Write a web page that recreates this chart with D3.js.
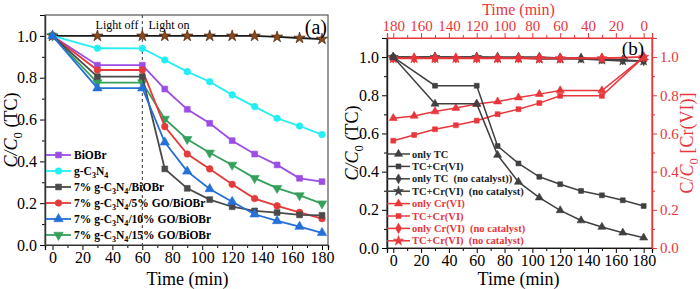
<!DOCTYPE html>
<html>
<head>
<meta charset="utf-8">
<script src="https://cdn.jsdelivr.net/npm/d3@7"></script>
<style>
  body { margin: 0; background: #fff; }
  svg { display: block; font-family: "Liberation Serif", "DejaVu Serif", serif; }
  .pre { white-space: pre; }
</style>
</head>
<body>
<div id="chart"></div>
<script>
// ---- data, panel (a) ----
const timesA = [0, 30, 60, 75, 90, 105, 120, 135, 150, 165, 180];
const photolysisA = [1, 1, 1, 1, 1, 1, 1, 1, 0.995, 0.99, 0.985];
const biobrA = [1, 0.86, 0.86, 0.746, 0.649, 0.582, 0.499, 0.435, 0.383, 0.319, 0.303];
const gc3n4A = [1, 0.941, 0.94, 0.885, 0.829, 0.781, 0.718, 0.662, 0.606, 0.569, 0.528];
const gcnBiobrA = [1, 0.805, 0.805, 0.364, 0.271, 0.217, 0.183, 0.163, 0.155, 0.144, 0.142];
const go5A = [1, 0.837, 0.837, 0.566, 0.435, 0.364, 0.29, 0.222, 0.187, 0.156, 0.126];
const go10A = [1, 0.75, 0.75, 0.491, 0.352, 0.268, 0.207, 0.147, 0.115, 0.088, 0.058];
const go15A = [1, 0.777, 0.777, 0.603, 0.506, 0.441, 0.383, 0.32, 0.272, 0.237, 0.198];
const xTicksA = [0, 20, 40, 60, 80, 100, 120, 140, 160, 180];
const yTicks = [0, 0.2, 0.4, 0.6, 0.8, 1.0];

// ---- data, panel (b) ----
const timesB = [0, 30, 60, 75, 90, 105, 120, 135, 150, 165, 180];
const onlyTC = [1, 0.755, 0.755, 0.487, 0.346, 0.264, 0.197, 0.144, 0.11, 0.08, 0.054];
const tcCrTC = [1, 0.85, 0.85, 0.534, 0.443, 0.373, 0.334, 0.299, 0.276, 0.25, 0.22];
const onlyTCnoCat = [1, 1, 1, 1, 1, 1, 0.995, 0.995, 0.99, 0.985, 0.98];
const tcCrTCnoCat = [1, 1, 1, 0.995, 0.995, 0.99, 0.99, 0.99, 0.985, 0.98, 0.98];
// Cr(VI) series are read against the reversed top time axis
const onlyCr = [1, 0.825, 0.825, 0.806, 0.788, 0.767, 0.754, 0.733, 0.715, 0.692, 0.68];
const tcCrCr = [1, 0.797, 0.797, 0.759, 0.727, 0.701, 0.667, 0.643, 0.622, 0.592, 0.562];
const onlyCrNoCat = [1, 0.995, 0.995, 0.995, 0.995, 0.995, 0.995, 0.995, 0.995, 0.995, 0.995];
const tcCrCrNoCat = [1, 0.993, 0.993, 0.993, 0.993, 0.993, 0.993, 0.993, 0.993, 0.993, 0.993];

const width = 700, height = 289;
const svg = d3.select("#chart").append("svg")
    .attr("width", width).attr("height", height)
    .attr("viewBox", [0, 0, width, height]);

const RED = "#e8363b", GRAY = "#404040";

// rich text helper: parts = [[text, style]] style: n | i | sub | up
function rich(sel, parts, fs) {
    parts.forEach(([s, k]) => {
        const t = sel.append("tspan").text(s);
        if (k === "i") t.style("font-style", "italic");
        if (k === "sub") t.attr("dy", fs * 0.25).style("font-size", (fs * 0.7) + "px");
        if (k === "up") t.attr("dy", -fs * 0.25);
    });
}
// after a sub part the next part must move back up
function richParts(list) {
    return list.map((p, i) => (i > 0 && list[i - 1][1] === "sub") ? [p[0], "up"] : p);
}

const symbols = {
    square: d3.symbolSquare, circle: d3.symbolCircle, up: d3.symbolTriangle,
    star: d3.symbolStar, diamond: d3.symbolDiamond, down: d3.symbolTriangle
};
function marker(g, type, x, y, fill, stroke, size) {
    g.append("path").attr("d", d3.symbol(symbols[type], size)())
        .attr("transform", `translate(${x},${y})` + (type === "down" ? " rotate(180)" : ""))
        .attr("fill", fill).attr("stroke", stroke).attr("stroke-width", 0.6);
}

// ================= panel (a) =================
const A = {left: 45, right: 328, top: 15, bottom: 245};
const xA = d3.scaleLinear().domain([-5, 184]).range([A.left, A.right]);
const yA = d3.scaleLinear().domain([0, 1.1]).range([A.bottom, A.top]);

const seriesA = [
    {vals: photolysisA, color: "#1a1a1a", mfill: "#8b4a1c", mstroke: "#3a1a05", sym: "star", size: 40},
    {vals: gc3n4A, color: "#22eef4", mfill: "#22eef4", sym: "circle", size: 34},
    {vals: biobrA, color: "#9b4de6", mfill: "#9b4de6", sym: "square", size: 34},
    {vals: go15A, color: "#34a05c", mfill: "#34a05c", sym: "down", size: 38},
    {vals: go5A, color: "#e43a3a", mfill: "#e43a3a", sym: "circle", size: 34},
    {vals: gcnBiobrA, color: "#4a4a4a", mfill: "#4a4a4a", sym: "square", size: 34},
    {vals: go10A, color: "#2470d8", mfill: "#2470d8", sym: "up", size: 38}
];

// dashed light on/off line
svg.append("line")
    .attr("x1", xA(60)).attr("x2", xA(60))
    .attr("y1", A.top).attr("y2", A.bottom)
    .attr("stroke", "#333").attr("stroke-width", 1)
    .attr("stroke-dasharray", "3,3");

const lineA = d3.line().x((d, i) => xA(timesA[i])).y(d => yA(d));
seriesA.forEach(s => {
    svg.append("path").datum(s.vals).attr("d", lineA)
        .attr("fill", "none").attr("stroke", s.color).attr("stroke-width", 1.8);
    const g = svg.append("g");
    s.vals.forEach((v, i) => marker(g, s.sym, xA(timesA[i]), yA(v), s.mfill, s.mstroke || s.mfill, s.size));
});

// axes (a)
svg.append("g").attr("transform", `translate(0,${A.bottom})`)
    .call(d3.axisBottom(xA).tickValues(xTicksA).tickSize(5).tickPadding(2));
svg.append("g").attr("transform", `translate(0,${A.bottom})`)
    .call(d3.axisBottom(xA).tickValues(d3.range(10, 181, 20)).tickSize(3).tickFormat(""));
svg.append("g").attr("transform", `translate(${A.left},0)`)
    .call(d3.axisLeft(yA).tickValues(yTicks).tickSize(5).tickPadding(3).tickFormat(d3.format(".1f")));
svg.append("g").attr("transform", `translate(${A.left},0)`)
    .call(d3.axisLeft(yA).tickValues([0.1, 0.3, 0.5, 0.7, 0.9]).tickSize(3).tickFormat(""));
svg.append("rect").attr("x", A.left).attr("y", A.top)
    .attr("width", A.right - A.left).attr("height", A.bottom - A.top)
    .attr("fill", "none").attr("stroke", "#555").attr("stroke-width", 1.2);

svg.append("text").attr("x", 117).attr("y", 29).attr("text-anchor", "middle")
    .style("font-size", "12px").text("Light off");
svg.append("text").attr("x", 169).attr("y", 29).attr("text-anchor", "middle")
    .style("font-size", "12px").text("Light on");
svg.append("text").attr("x", 327).attr("y", 34).attr("text-anchor", "end")
    .style("font-size", "20px").text("(a)");

svg.append("text").attr("x", (A.left + A.right) / 2 + 1).attr("y", 285)
    .attr("text-anchor", "middle").style("font-size", "18px").text("Time (min)");
rich(svg.append("text").attr("transform", `translate(17,${(A.top + A.bottom) / 2}) rotate(-90)`)
    .attr("text-anchor", "middle").style("font-size", "18px"),
    richParts([["C/C", "i"], ["0", "sub"], [" (TC)", "n"]]), 18);

// legend (a)
const legendA = [
    {s: seriesA[2], parts: [["BiOBr", "n"]]},
    {s: seriesA[1], parts: [["g-C", "n"], ["3", "sub"], ["N", "n"], ["4", "sub"]]},
    {s: seriesA[5], parts: [["7% g-C", "n"], ["3", "sub"], ["N", "n"], ["4", "sub"], ["/BiOBr", "n"]]},
    {s: seriesA[4], parts: [["7% g-C", "n"], ["3", "sub"], ["N", "n"], ["4", "sub"], ["/5% GO/BiOBr", "n"]]},
    {s: seriesA[6], parts: [["7% g-C", "n"], ["3", "sub"], ["N", "n"], ["4", "sub"], ["/10% GO/BiOBr", "n"]]},
    {s: seriesA[3], parts: [["7% g-C", "n"], ["3", "sub"], ["N", "n"], ["4", "sub"], ["/15% GO/BiOBr", "n"]]}
];
legendA.forEach((e, i) => {
    const y = 155 + i * 16;
    svg.append("line").attr("x1", 46).attr("x2", 71).attr("y1", y).attr("y2", y)
        .attr("stroke", e.s.color).attr("stroke-width", 1.8);
    marker(svg, e.s.sym, 58.5, y, e.s.mfill, e.s.mfill, e.s.size);
    rich(svg.append("text").attr("x", 74).attr("y", y + 4)
        .style("font-size", "11.5px").style("font-weight", "bold"), richParts(e.parts), 11.5);
});

// ================= panel (b) =================
const B = {left: 387, right: 652, top: 38, bottom: 248};
const xB = d3.scaleLinear().domain([-4.5, 186]).range([B.left, B.right]);
const xTopB = d3.scaleLinear().domain([184.5, -6]).range([B.left, B.right]);
const yB = d3.scaleLinear().domain([0, 1.1]).range([B.bottom, B.top]);

const seriesB = [
    {vals: onlyCrNoCat, x: xTopB, color: RED, sym: "diamond", size: 30, name: "only Cr(VI)  (no catalyst)"},
    {vals: tcCrCrNoCat, x: xTopB, color: RED, sym: "star", size: 32, name: "TC+Cr(VI)  (no catalyst)"},
    {vals: onlyTCnoCat, x: xB, color: GRAY, sym: "diamond", size: 28, name: "only TC  (no catalyst))"},
    {vals: tcCrTCnoCat, x: xB, color: GRAY, sym: "star", size: 30, name: "TC+Cr(VI)  (no catalyst)"},
    {vals: onlyCr, x: xTopB, color: RED, sym: "up", size: 28, name: "only Cr(VI)"},
    {vals: tcCrCr, x: xTopB, color: RED, sym: "square", size: 24, name: "TC+Cr(VI)"},
    {vals: onlyTC, x: xB, color: GRAY, sym: "up", size: 28, name: "only TC"},
    {vals: tcCrTC, x: xB, color: GRAY, sym: "square", size: 24, name: "TC+Cr(VI)"}
];
// draw gray no-catalyst first, then red no-catalyst on top
[2, 3, 0, 1, 4, 5, 6, 7].forEach(k => {
    const s = seriesB[k];
    const ln = d3.line().x((d, i) => s.x(timesB[i])).y(d => yB(d));
    svg.append("path").datum(s.vals).attr("d", ln)
        .attr("fill", "none").attr("stroke", s.color).attr("stroke-width", 1.5);
    const g = svg.append("g");
    s.vals.forEach((v, i) => marker(g, s.sym, s.x(timesB[i]), yB(v), s.color, s.color, s.size));
});

// axes (b)
svg.append("g").attr("transform", `translate(0,${B.bottom})`)
    .call(d3.axisBottom(xB).tickValues(xTicksA).tickSize(5).tickPadding(2));
svg.append("g").attr("transform", `translate(0,${B.bottom})`)
    .call(d3.axisBottom(xB).tickValues(d3.range(10, 181, 20)).tickSize(3).tickFormat(""));
svg.append("g").attr("transform", `translate(${B.left},0)`)
    .call(d3.axisLeft(yB).tickValues(yTicks).tickSize(5).tickPadding(3).tickFormat(d3.format(".1f")));
svg.append("g").attr("transform", `translate(${B.left},0)`)
    .call(d3.axisLeft(yB).tickValues([0.1, 0.3, 0.5, 0.7, 0.9]).tickSize(3).tickFormat(""));
svg.append("g").attr("class", "redax").attr("transform", `translate(0,${B.top})`)
    .call(d3.axisTop(xTopB).tickValues(xTicksA).tickSize(5).tickPadding(2));
svg.append("g").attr("class", "redax").attr("transform", `translate(0,${B.top})`)
    .call(d3.axisTop(xTopB).tickValues(d3.range(10, 181, 20)).tickSize(3).tickFormat(""));
svg.append("g").attr("class", "redax").attr("transform", `translate(${B.right},0)`)
    .call(d3.axisRight(yB).tickValues(yTicks).tickSize(5).tickPadding(3).tickFormat(d3.format(".1f")));
svg.append("g").attr("class", "redax").attr("transform", `translate(${B.right},0)`)
    .call(d3.axisRight(yB).tickValues([0.1, 0.3, 0.5, 0.7, 0.9]).tickSize(3).tickFormat(""));
svg.selectAll(".redax line, .redax path").attr("stroke", RED);
svg.selectAll(".redax text").attr("fill", RED);

svg.append("line").attr("x1", B.left).attr("x2", B.left).attr("y1", B.top).attr("y2", B.bottom)
    .attr("stroke", "#333").attr("stroke-width", 1.2);
svg.append("line").attr("x1", B.left).attr("x2", B.right).attr("y1", B.bottom).attr("y2", B.bottom)
    .attr("stroke", "#333").attr("stroke-width", 1.2);
svg.append("line").attr("x1", B.left).attr("x2", B.right).attr("y1", B.top).attr("y2", B.top)
    .attr("stroke", RED).attr("stroke-width", 1.2);
svg.append("line").attr("x1", B.right).attr("x2", B.right).attr("y1", B.top).attr("y2", B.bottom)
    .attr("stroke", RED).attr("stroke-width", 1.2);

svg.append("text").attr("x", 644).attr("y", 55).attr("text-anchor", "end")
    .style("font-size", "19px").text("(b)");

svg.append("text").attr("x", (B.left + B.right) / 2 - 1).attr("y", 285)
    .attr("text-anchor", "middle").style("font-size", "18px").text("Time (min)");
svg.append("text").attr("x", (B.left + B.right) / 2 - 1).attr("y", 15)
    .attr("text-anchor", "middle").style("font-size", "16px").attr("fill", RED).text("Time (min)");
rich(svg.append("text").attr("transform", `translate(358,${(B.top + B.bottom) / 2}) rotate(-90)`)
    .attr("text-anchor", "middle").style("font-size", "18px"),
    richParts([["C/C", "i"], ["0", "sub"], [" (TC)", "n"]]), 18);
rich(svg.append("text").attr("transform", `translate(693,${(B.top + B.bottom) / 2}) rotate(-90)`)
    .attr("text-anchor", "middle").style("font-size", "18px").attr("fill", RED),
    richParts([["C/", "n"], ["C", "i"], ["0", "sub"], [" [Cr(VI)]", "n"]]), 18);

// legend (b)
const legendOrder = [6, 7, 2, 3, 4, 5, 0, 1];
legendOrder.forEach((k, i) => {
    const s = seriesB[k];
    const y = 154 + i * 12.4;
    svg.append("line").attr("x1", B.left).attr("x2", 410).attr("y1", y).attr("y2", y)
        .attr("stroke", s.color).attr("stroke-width", 1.5);
    marker(svg, s.sym, 398.5, y, s.color, s.color, s.size);
    svg.append("text").attr("class", "pre").attr("x", 412).attr("y", y + 3.5)
        .style("font-size", "10.5px").style("font-weight", "bold")
        .attr("fill", s.color === RED ? RED : "#222").text(s.name);
});

// font sizes for tick labels
svg.selectAll(".tick text").style("font-size", "16px").style("font-family", "Liberation Serif");
svg.selectAll(".redax .tick text").style("font-size", "15px");
svg.selectAll(".domain").attr("stroke-width", 1.2);
</script>
</body>
</html>
